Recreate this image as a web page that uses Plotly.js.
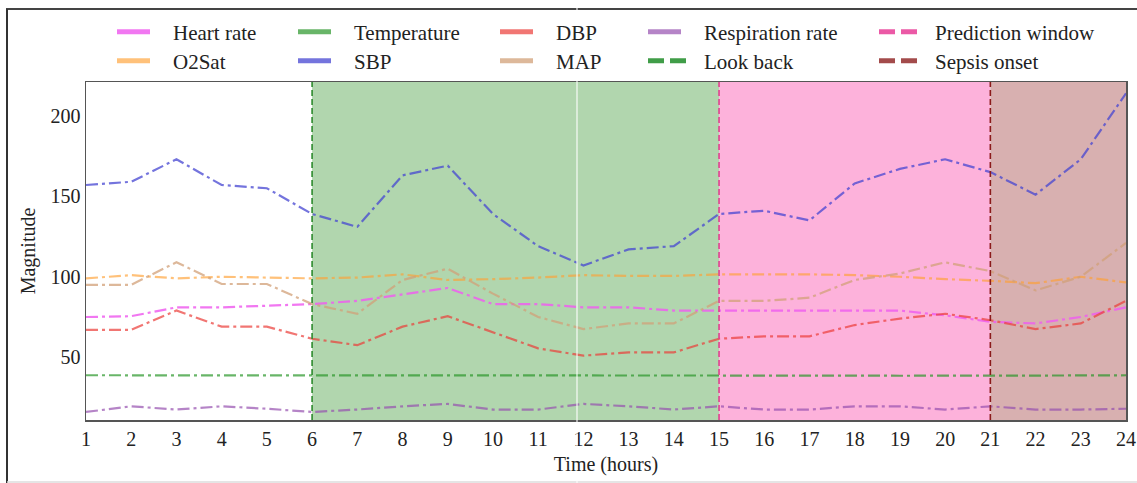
<!DOCTYPE html>
<html>
<head>
<meta charset="utf-8">
<script src="https://cdn.plot.ly/plotly-3.0.1.min.js"></script>
<style>html,body{margin:0;padding:0;background:#fff;}#chart{width:1137px;height:483px;}</style>
</head>
<body>
<div id="chart"></div>
<script>
// ---- data ----
const hours = [1,2,3,4,5,6,7,8,9,10,11,12,13,14,15,16,17,18,19,20,21,22,23,24];
const heartRate   = [75, 75.5, 81, 81, 82, 83, 85, 89, 93, 83, 83, 81, 81, 79, 79, 79, 79, 79, 79, 76, 72, 71, 75, 81];
const o2Sat       = [99, 101, 99, 100, 99.5, 99, 99.5, 101.5, 98, 98.5, 99.5, 101, 100.5, 100.5, 101.5, 101.5, 101.5, 101, 100, 98.5, 97.5, 96, 100, 96.5];
const temperature = [38.8, 38.8, 38.9, 38.9, 38.9, 39, 39, 39, 38.9, 38.9, 38.8, 38.8, 38.8, 38.8, 38.8, 38.7, 38.7, 38.6, 38.5, 38.4, 38.5, 38.6, 38.7, 38.8];
const sbp         = [157, 159, 173, 157, 155, 139, 131, 163, 169, 139, 119, 107, 117, 119, 139, 141, 135, 158, 167, 173, 165, 151, 173, 214];
const dbp         = [67, 67, 79, 69, 69, 61.5, 57.5, 69, 75.5, 65.5, 55.5, 51, 53, 53, 61.5, 63, 63, 70, 74, 77, 73, 67.5, 71, 85];
const mapValues   = [95, 95, 109, 95.5, 95.5, 83, 77, 98, 105, 89.5, 75, 67.5, 71, 71, 85, 85, 87, 98, 102, 109, 103.5, 91.5, 100, 121];
const respiration = [16, 19.5, 17.5, 19.5, 18, 16, 17.5, 19.5, 21, 17.5, 17.5, 21, 19.5, 17.5, 19.5, 17.5, 17.5, 19.5, 19.5, 17.5, 19.5, 17.5, 17.5, 18];

const windowNames  = ['Look back', 'Prediction window', 'Sepsis onset'];
const windowStarts = [6, 15, 21];
const windowEnds   = [15, 21, 24];

const xTicks = hours;
const yTicks = [50, 100, 150, 200];

// ---- styles ----
const FONT = 'Liberation Serif, Times New Roman, serif';
const seriesDefs = [
  {name:'Heart rate',       y:heartRate,   color:'rgba(238,95,238,0.85)'},
  {name:'O2Sat',            y:o2Sat,       color:'rgba(255,160,50,0.65)'},
  {name:'Temperature',      y:temperature, color:'rgba(40,150,40,0.7)'},
  {name:'SBP',              y:sbp,         color:'rgba(70,70,210,0.75)'},
  {name:'DBP',              y:dbp,         color:'rgba(235,60,55,0.7)'},
  {name:'MAP',              y:mapValues,   color:'rgba(210,160,120,0.75)'},
  {name:'Respiration rate', y:respiration, color:'rgba(150,80,175,0.7)'}
];
const windowLineColors = ['#2e8b2e', '#e0408f', '#8b1a1a'];
const windowFillColors = ['#b1d6ae', '#fdb2db', '#d8b0b0'];
const windowLegendColors = ['rgba(30,140,40,0.85)', 'rgba(232,60,150,0.85)', 'rgba(140,30,30,0.8)'];

// legend placement: [column px of swatch start, row px center]
const legendSlots = {
  'Heart rate':[117,32], 'O2Sat':[117,61],
  'Temperature':[298,32], 'SBP':[298,61],
  'DBP':[500,32], 'MAP':[500,61],
  'Respiration rate':[648,32], 'Look back':[648,61],
  'Prediction window':[879,32], 'Sepsis onset':[879,61]
};
const L = 86, R = 1126, T = 82, B = 420;
const px2x = px => (px - L) / (R - L);
const px2y = py => (B - py) / (B - T);

const traces = [];
seriesDefs.forEach(s => {
  traces.push({x:hours, y:s.y, mode:'lines', name:s.name, showlegend:false,
    line:{color:s.color, width:2.2, dash:'12px,4px,3px,4px'}, hoverinfo:'skip'});
});

const layout = {
  width:1137, height:483,
  margin:{l:L, r:1137-R, t:T, b:483-B},
  paper_bgcolor:'#fff', plot_bgcolor:'#fff',
  font:{family:FONT, size:20, color:'#222'},
  xaxis:{range:[1,24], tickvals:xTicks, ticktext:xTicks.map(String), showgrid:false, zeroline:false,
    showline:true, mirror:true, linecolor:'#555', linewidth:1.5, ticks:'',
    tickfont:{family:FONT, size:20, color:'#222'},
    title:{text:'Time (hours)', font:{family:FONT, size:20, color:'#222'}, standoff:8}},
  yaxis:{range:[11,221], tickvals:yTicks, showgrid:false, zeroline:false,
    showline:true, mirror:true, linecolor:'#555', linewidth:1.5, ticks:'',
    tickfont:{family:FONT, size:20, color:'#222'},
    title:{text:'Magnitude', font:{family:FONT, size:20, color:'#222'}, standoff:9}},
  shapes:[], showlegend:true
};

// shaded windows and their boundary lines
windowNames.forEach((n, i) => {
  layout.shapes.push({type:'rect', xref:'x', yref:'paper', x0:windowStarts[i], x1:windowEnds[i], y0:0, y1:1,
    fillcolor:windowFillColors[i], line:{width:0}, layer:'below'});
});
windowNames.forEach((n, i) => {
  layout.shapes.push({type:'line', xref:'x', yref:'paper', x0:windowStarts[i], x1:windowStarts[i], y0:0, y1:1,
    line:{color:windowLineColors[i], width:1.6, dash:'6px,3px'}, layer:'above'});
});
// outer figure frame
layout.shapes.push({type:'line', xref:'paper', yref:'paper', x0:px2x(6), x1:px2x(1140), y0:px2y(9), y1:px2y(9), line:{color:'#444', width:2}});
layout.shapes.push({type:'line', xref:'paper', yref:'paper', x0:px2x(7), x1:px2x(7), y0:px2y(9), y1:px2y(483), line:{color:'#333', width:2}});
layout.shapes.push({type:'line', xref:'paper', yref:'paper', x0:px2x(7), x1:px2x(1140), y0:px2y(482), y1:px2y(482), line:{color:'#ddd', width:1.5}});
// thin white seam in the source image
layout.shapes.push({type:'line', xref:'paper', yref:'paper', x0:px2x(577), x1:px2x(577), y0:px2y(483), y1:px2y(0), line:{color:'rgba(255,255,255,0.9)', width:1.2}});

// legend entries (one legend per slot so columns match)
const legendEntries = seriesDefs.map(s => ({name:s.name, color:s.color, dash:'33px,200px'}))
  .concat(windowNames.map((n, i) => ({name:n, color:windowLegendColors[i], dash:'16px,6px,16px,200px'})));
legendEntries.forEach((e, i) => {
  const key = i === 0 ? 'legend' : 'legend' + (i + 1);
  traces.push({x:[null], y:[null], mode:'lines', name:e.name, legend:key, showlegend:true, hoverinfo:'skip',
    line:{color:e.color, width:5, dash:e.dash}});
  const slot = legendSlots[e.name];
  layout[key] = {x:px2x(slot[0] - 5), y:px2y(slot[1]), xanchor:'left', yanchor:'middle',
    bgcolor:'rgba(0,0,0,0)', borderwidth:0, itemwidth:51,
    font:{family:FONT, size:21, color:'#222'}};
});

Plotly.newPlot('chart', traces, layout, {displayModeBar:false, staticPlot:true});
</script>
</body>
</html>
